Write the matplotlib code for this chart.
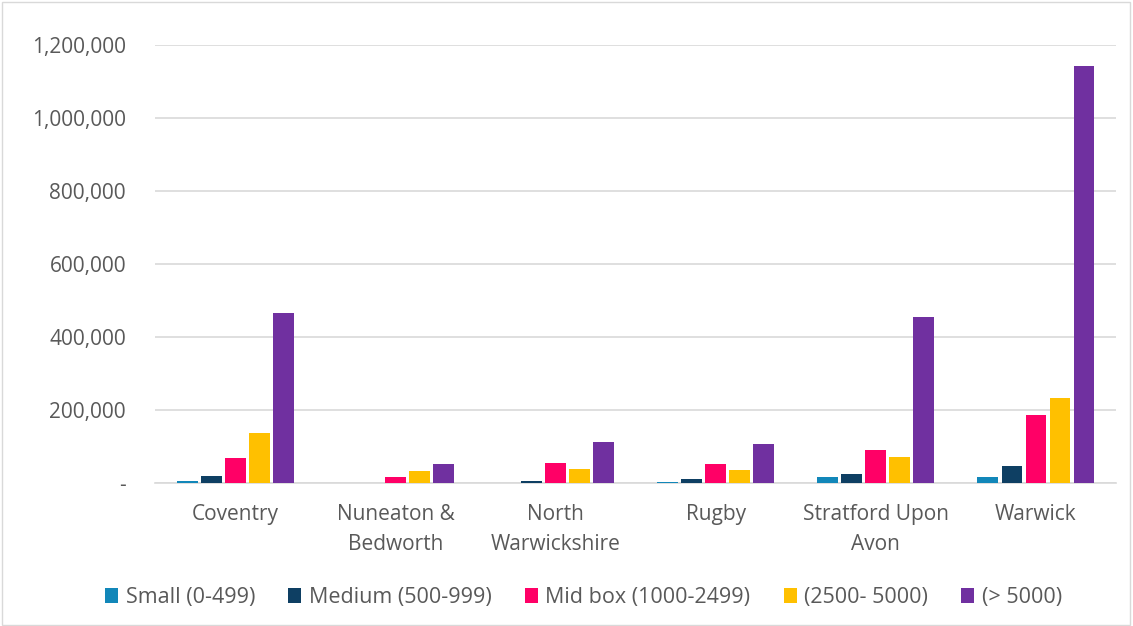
import numpy as np
import matplotlib.pyplot as plt
from matplotlib.ticker import FuncFormatter

categories = ['Coventry', 'Nuneaton &\nBedworth', 'North\nWarwickshire', 'Rugby',
              'Stratford Upon\nAvon', 'Warwick']
series = ['Small (0-499)', 'Medium (500-999)', 'Mid box (1000-2499)', '(2500- 5000)', '(> 5000)']
small = [5000, 0, 0, 3000, 16000, 17000]
medium = [19000, 0, 5000, 13000, 25000, 46000]
mid_box = [68000, 16000, 55000, 52000, 90000, 188000]
large = [137000, 33000, 38000, 36000, 72000, 233000]
xlarge = [465000, 52000, 112000, 108000, 454000, 1143000]
values = [small, medium, mid_box, large, xlarge]
colors = ['#1287B9', '#0E3F63', '#FF0066', '#FFC000', '#7030A0']

fig = plt.figure(figsize=(11.33, 6.26), dpi=100)
ax = fig.add_axes([0.137, 0.228, 0.848, 0.70])

x = np.arange(len(categories))
step = 0.15
width = 0.13
for i, (name, vals, c) in enumerate(zip(series, values, colors)):
    ax.bar(x + (i - 2) * step, vals, width, color=c, label=name, zorder=3)

ax.set_xlim(-0.5, len(categories) - 0.5)
ax.set_ylim(0, 1200000)
ax.set_yticks(np.arange(0, 1200001, 200000))
ax.yaxis.set_major_formatter(FuncFormatter(lambda v, p: '-' if v == 0 else '{:,.0f}'.format(v)))
ax.set_xticks(x)
ax.set_xticklabels(categories, linespacing=1.55)
ax.grid(axis='y', color='#D9D9D9', linewidth=1.2, zorder=0)
for s in ['top', 'right', 'left']:
    ax.spines[s].set_visible(False)
ax.spines['bottom'].set_color('#D9D9D9')
ax.spines['bottom'].set_linewidth(1.2)
ax.tick_params(axis='both', length=0, colors='#595959', labelsize=15)
ax.tick_params(axis='x', pad=15)
ax.tick_params(axis='y', pad=21)
for lbl in ax.get_xticklabels() + ax.get_yticklabels():
    lbl.set_family('Open Sans')

leg = fig.legend(loc='center', bbox_to_anchor=(0.515, 0.046), ncol=5, frameon=False,
                 handlelength=0.6, handleheight=0.7, handletextpad=0.35, columnspacing=1.55,
                 prop={'family': 'Open Sans', 'size': 15.5})
for t in leg.get_texts():
    t.set_color('#595959')

fig.patches.append(plt.Rectangle((0.002, 0.002), 0.995, 0.995, transform=fig.transFigure,
                                 fill=False, edgecolor='#D9D9D9', linewidth=1))

fig.savefig('out.png', dpi=100)
